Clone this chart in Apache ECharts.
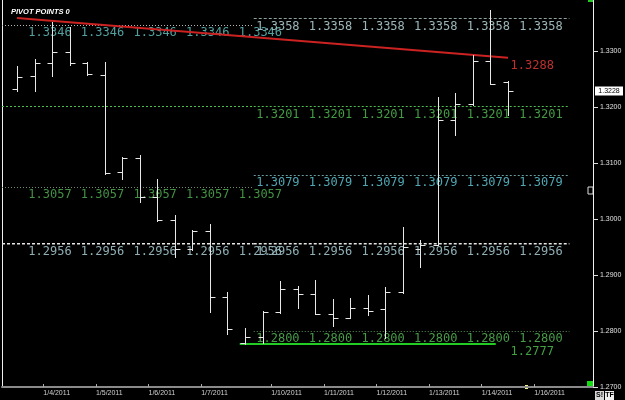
<!DOCTYPE html>
<html><head><meta charset="utf-8">
<script src="https://cdn.jsdelivr.net/npm/echarts@6/dist/echarts.min.js"></script>
<style>html,body{margin:0;padding:0;background:#000}#c{width:625px;height:400px}</style>
</head><body><div id="c"></div>
<script>
// ---- data ----
const barIndex = [0,1,2,3,4,5,6,7,8,9,10,11,12,13,14,15,16,17,18,19,20,21,22,23,24,25,26,27,28];
const opens  = [1.3232,1.3255,1.3279,1.3298,1.3279,1.3257,1.3084,1.3109,1.3039,1.2998,1.2946,1.2979,1.2861,1.2779,1.2789,1.2834,1.2875,1.2866,1.2830,1.2823,1.2841,1.2839,1.2870,1.2946,1.2954,1.3177,1.3205,1.3282,1.3245];
const highs  = [1.3273,1.3286,1.3352,1.3343,1.3280,1.3280,1.3111,1.3114,1.3071,1.3007,1.2980,1.2991,1.2870,1.2805,1.2836,1.2889,1.2880,1.2891,1.2857,1.2859,1.2864,1.2879,1.2986,1.2963,1.3218,1.3225,1.3293,1.3373,1.3246];
const lows   = [1.3229,1.3229,1.3255,1.3275,1.3257,1.3081,1.3071,1.3030,1.2996,1.2932,1.2944,1.2834,1.2795,1.2777,1.2779,1.2832,1.2841,1.2830,1.2809,1.2823,1.2829,1.2788,1.2868,1.2914,1.2953,1.3150,1.3204,1.3241,1.3186];
const closes = [1.3254,1.3279,1.3298,1.3279,1.3259,1.3082,1.3109,1.3039,1.2998,1.2946,1.2979,1.2861,1.2804,1.2789,1.2834,1.2875,1.2866,1.2830,1.2823,1.2841,1.2836,1.2870,1.2950,1.2954,1.3177,1.3205,1.3282,1.3241,1.3228];

const dayTicks  = [1.5,4.5,7.5,10.5,14.5,17.5,20.5,23.5,26.5,29.5];
const dayLabels = ["1/4/2011","1/5/2011","1/6/2011","1/7/2011","1/10/2011","1/11/2011","1/12/2011","1/13/2011","1/14/2011","1/16/2011"];
const yTicks = [1.27,1.28,1.29,1.30,1.31,1.32,1.33];

const week1Levels = [1.3346,1.3057,1.2956];
const week1LabelDays = [0.5,3.5,6.5,9.5,12.5];
const week2Levels = [1.3358,1.3201,1.3079,1.2956,1.2800];
const week2LabelDays = [13.5,16.5,19.5,22.5,25.5,28.5];
const week1Span = [-0.855,13.5];
const week2Span = [13.5,31.5];
const carriedLevel = 1.3201;          // green line also drawn through week 1
const trendLine = [[0,1.3359],[28,1.3288]];
const weekLow = 1.2777;
const weekLowSpan = [12.7,27.3];
const lastPrice = 1.3228;

// ---- styles ----
const X_MIN = -0.855, X_MAX = 32.845, Y_MIN = 1.27, Y_MAX = 1.3391;
const lineStyleFor = {
  '1.3346': {stroke:'#b4b4b4', lineDash:[1,2], lineWidth:1},
  '1.3358': {stroke:'#8fa0a0', lineDash:[3,2], lineWidth:1},
  '1.3201': {stroke:'#4cc04c', lineDash:[2,2], lineWidth:1},
  '1.3057': {stroke:'#6a8c6a', lineDash:[1,2], lineWidth:1},
  '1.3079': {stroke:'#6a9ca0', lineDash:[2,2], lineWidth:1},
  '1.2956': {stroke:'#e6e6e6', lineDash:[3,2], lineWidth:1.5},
  '1.2800': {stroke:'#5c905c', lineDash:[1,2], lineWidth:1},
  '1.2777': {stroke:'#22cc22', lineDash:null, lineWidth:2}
};
const textColorFor = {
  '1.3346':'#5aaeae','1.3358':'#a8c4c8','1.3201':'#4aa84a','1.3057':'#4a9e4a',
  '1.3079':'#58b4c2','1.2956':'#9cbec4','1.2800':'#4ea84e','1.2777':'#48b048','trend':'#d03434'
};

// ---- build segments and labels from the arrays ----
const segments = [];
week1Levels.forEach(v => segments.push([week1Span[0], week1Span[1], v]));
segments.push([week1Span[0], week1Span[1], carriedLevel]);
week2Levels.forEach(v => segments.push([week2Span[0], week2Span[1], v]));
segments.push([weekLowSpan[0], weekLowSpan[1], weekLow]);

const labels = [];
week1Levels.forEach(v => week1LabelDays.forEach(d => labels.push([d, v, v.toFixed(4)])));
week2Levels.forEach(v => week2LabelDays.forEach(d => labels.push([d, v, v.toFixed(4)])));
const trendEnd = trendLine[trendLine.length-1];
labels.push([trendEnd[0], trendEnd[1], 'trend']);
labels.push([trendEnd[0], weekLow, weekLow.toFixed(4)]);

const ohlc = barIndex.map((i,k) => [i, opens[k], highs[k], lows[k], closes[k]]);

const px = v => Math.round(v) + 0.5;

const chart = echarts.init(document.getElementById('c'));
chart.setOption({
  backgroundColor:'#000',
  animation:false,
  title:{text:'PIVOT POINTS 0', left:6, top:3,
    textStyle:{color:'#fff', fontSize:7.5, fontWeight:'bold', fontStyle:'italic', fontFamily:'Liberation Sans'}},
  grid:{left:2, right:32, top:0, bottom:13},
  xAxis:{type:'value', min:X_MIN, max:X_MAX,
    axisLine:{show:true, onZero:false, lineStyle:{color:'#8a8a8a', width:2}},
    axisTick:{show:true, inside:true, length:3, customValues:dayTicks, lineStyle:{color:'#aaa'}},
    axisLabel:{show:true, customValues:dayTicks, align:'left', margin:3, color:'#d0d0d0',
      fontSize:7, fontFamily:'Liberation Sans',
      formatter:v => { const k = dayTicks.findIndex(t => Math.abs(t-v) < 1e-6); return k >= 0 ? dayLabels[k] : ''; }},
    splitLine:{show:false}},
  yAxis:[
    {type:'value', position:'right', min:Y_MIN, max:Y_MAX,
      axisLine:{show:true, onZero:false, lineStyle:{color:'#f0f0f0', width:1}},
      axisTick:{show:true, length:5, customValues:yTicks, lineStyle:{color:'#ddd'}},
      axisLabel:{customValues:yTicks, margin:7, color:'#e0e0e0', fontSize:7, fontFamily:'Liberation Sans',
        formatter:v => v.toFixed(4)},
      splitLine:{show:false}},
    {type:'value', position:'left', min:Y_MIN, max:Y_MAX,
      axisLine:{show:true, onZero:false, lineStyle:{color:'#f0f0f0', width:1}},
      axisTick:{show:false}, axisLabel:{show:false}, splitLine:{show:false}}
  ],
  series:[
    {type:'custom', name:'levels', data:segments, encode:{x:[0,1], y:2}, z:1, clip:false,
      renderItem:(params, api) => {
        const s = segments[params.dataIndex];
        const p0 = api.coord([s[0], s[2]]), p1 = api.coord([s[1], s[2]]);
        const st = lineStyleFor[s[2].toFixed(4)];
        const y = st.lineWidth === 1 ? px(p0[1]) : p0[1];
        return {type:'line', shape:{x1:p0[0], y1:y, x2:p1[0], y2:y},
          style:{stroke:st.stroke, lineWidth:st.lineWidth, lineDash:st.lineDash}};
      }},
    {type:'custom', name:'levelLabels', data:labels.map(l => [l[0], l[1]]), encode:{x:0, y:1}, z:2, clip:false,
      renderItem:(params, api) => {
        const l = labels[params.dataIndex];
        const p = api.coord([l[0], l[1]]);
        const txt = l[2] === 'trend' ? l[1].toFixed(4) : l[2];
        return {type:'text', x:p[0] + 2.5, y:p[1] + 2,
          style:{text:txt, fill:textColorFor[l[2]], font:"12px 'DejaVu Sans Mono'",
            textAlign:'left', textVerticalAlign:'top', opacity:0.92}};
      }},
    {type:'line', name:'trend', data:trendLine, showSymbol:false, z:3,
      lineStyle:{color:'#cc2222', width:2}},
    {type:'custom', name:'ohlc', data:ohlc, encode:{x:0, y:[1,2,3,4]}, z:4,
      renderItem:(params, api) => {
        const i = api.value(0);
        const x = px(api.coord([i, 0])[0]);
        const yO = px(api.coord([i, api.value(1)])[1]);
        const yH = api.coord([i, api.value(2)])[1];
        const yL = api.coord([i, api.value(3)])[1];
        const yC = px(api.coord([i, api.value(4)])[1]);
        const st = {stroke:'#e8e8e8', lineWidth:1};
        return {type:'group', children:[
          {type:'line', shape:{x1:x, y1:Math.round(yH), x2:x, y2:Math.round(yL)+1}, style:st},
          {type:'line', shape:{x1:x-5, y1:yO, x2:x, y2:yO}, style:st},
          {type:'line', shape:{x1:x, y1:yC, x2:x+5, y2:yC}, style:st}
        ]};
      }},
    {type:'custom', name:'lastPrice', data:[[X_MAX, lastPrice]], encode:{x:0, y:1}, z:5, clip:false,
      renderItem:(params, api) => {
        const p = api.coord([api.value(0), api.value(1)]);
        return {type:'group', children:[
          {type:'rect', shape:{x:p[0]+2, y:Math.round(p[1])-4.5, width:28, height:9},
            style:{fill:'#fff'}},
          {type:'text', x:p[0]+16, y:Math.round(p[1]),
            style:{text:api.value(1).toFixed(4), fill:'#000', font:"7px 'Liberation Sans'",
              textAlign:'center', textVerticalAlign:'middle'}}
        ]};
      }}
  ],
  graphic:[
    {type:'rect', shape:{x:588, y:0, width:5, height:2}, style:{fill:'#22cc22'}},
    {type:'rect', shape:{x:588, y:187, width:5, height:7}, style:{fill:'#000', stroke:'#ddd', lineWidth:1}},
    {type:'rect', shape:{x:587, y:381, width:7, height:7}, style:{fill:'#11dd11'}},
    {type:'rect', shape:{x:525, y:385, width:3, height:4}, style:{fill:'#f4f488'}},
    {type:'rect', shape:{x:595, y:391, width:9, height:9}, style:{fill:'#d8d8d8'}},
    {type:'text', x:599.5, y:395.5, style:{text:'S!', fill:'#000', font:"bold 7px 'Liberation Sans'", textAlign:'center', textVerticalAlign:'middle'}},
    {type:'rect', shape:{x:605, y:391, width:9, height:9}, style:{fill:'#f0f0f0'}},
    {type:'text', x:609.5, y:395.5, style:{text:'TF', fill:'#000', font:"bold 7px 'Liberation Sans'", textAlign:'center', textVerticalAlign:'middle'}}
  ]
});
</script></body></html>
